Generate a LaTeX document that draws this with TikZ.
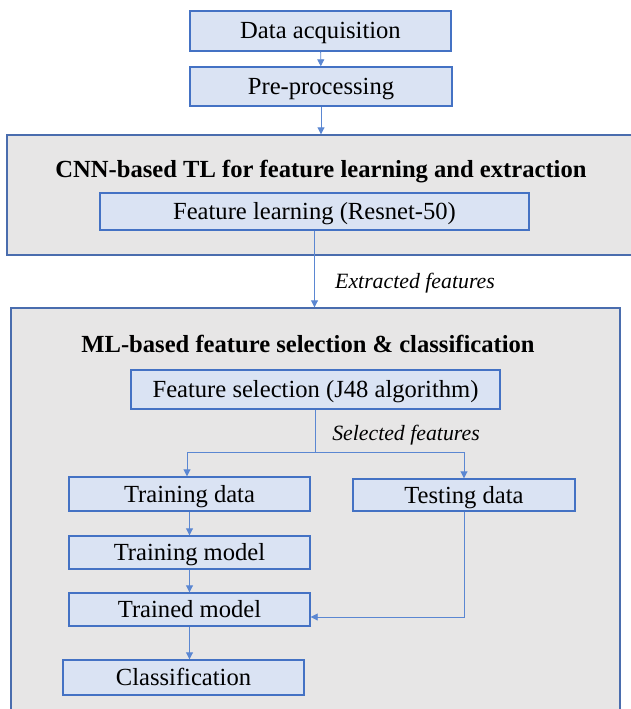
\documentclass[tikz,border=0pt]{standalone}
\usepackage{fontspec}
\setmainfont{Liberation Serif}
\usetikzlibrary{arrows.meta}
\definecolor{boxfill}{HTML}{DAE3F3}
\definecolor{boxline}{HTML}{4472C4}
\definecolor{contfill}{HTML}{E7E6E6}
\definecolor{contline}{HTML}{4A6DAE}
\definecolor{conn}{HTML}{5B87D2}
\tikzset{
  stepbox/.style={draw=boxline, fill=boxfill, line width=1.4pt, inner sep=0pt,
    text height=16pt, text depth=0pt,
    font=\fontsize{24.6}{26}\selectfont},
  container/.style={draw=contline, fill=contfill, line width=1.4pt, inner sep=0pt},
  ttl/.style={font=\fontsize{24.6}{26}\selectfont\bfseries, inner sep=0pt,
    text height=16pt, text depth=0pt},
  lbl/.style={font=\fontsize{21.8}{23}\selectfont\itshape, inner sep=0pt,
    text height=14pt, text depth=0pt},
  arr/.style={draw=conn, line width=0.9pt, -{Triangle[length=7pt,width=7pt]}},
  ln/.style={draw=conn, line width=0.9pt}
}
\begin{document}
\begin{tikzpicture}[x=1pt,y=-1pt]
\clip (0,0) rectangle (631,709);
\fill[white] (0,0) rectangle (631,709);
% containers
\node[container, minimum width=653pt, minimum height=120pt] (cnn) at (333.5,195) {};
\node[container, minimum width=609pt, minimum height=422pt] (ml) at (315.5,519) {};
% titles
\node[ttl] (cnnt) at (321,169) {CNN-based TL for feature learning and extraction};
\node[ttl] (mlt) at (308,344) {ML-based feature selection \& classification};
% boxes
\node[stepbox, minimum width=261pt, minimum height=40pt] (da) at (320.5,31) {Data acquisition};
\node[stepbox, minimum width=262pt, minimum height=39pt] (pp) at (321,86.5) {Pre-processing};
\node[stepbox, minimum width=429pt, minimum height=37pt] (fl) at (314.5,211.5) {Feature learning (Resnet-50)};
\node[stepbox, minimum width=369pt, minimum height=39pt] (fs) at (315.5,389.5) {Feature selection (J48 algorithm)};
\node[stepbox, minimum width=241pt, minimum height=34pt] (td) at (189.5,494) {Training data};
\node[stepbox, minimum width=222pt, minimum height=32pt] (ts) at (464,495) {Testing data};
\node[stepbox, minimum width=241pt, minimum height=33pt] (tm) at (189.5,552.5) {Training model};
\node[stepbox, minimum width=241pt, minimum height=33pt] (trm) at (189.5,609.5) {Trained model};
\node[stepbox, minimum width=241pt, minimum height=35pt] (cl) at (183.5,677.5) {Classification};
% labels
\node[lbl] (ef) at (415,281) {Extracted features};
\node[lbl] (sf) at (406,433.5) {Selected features};
% connectors
\coordinate (split) at (315.5,452);
\draw[arr] (da) -- (pp);
\draw[arr] (pp.south) -- (pp.south |- cnn.north);
\draw[arr] (fl.south) -- (fl.south |- ml.north);
\draw[ln] (fs.south) -- (split);
\draw[arr] (split) -| ([xshift=-2.5pt]td.north);
\draw[arr] (split) -| (ts.north);
\draw[arr] (td) -- (tm);
\draw[arr] (tm) -- (trm);
\draw[arr] (trm.south) -- (trm.south |- cl.north);
\draw[arr] (ts.south) |- ([yshift=-7.5pt]trm.east);
\end{tikzpicture}
\end{document}
